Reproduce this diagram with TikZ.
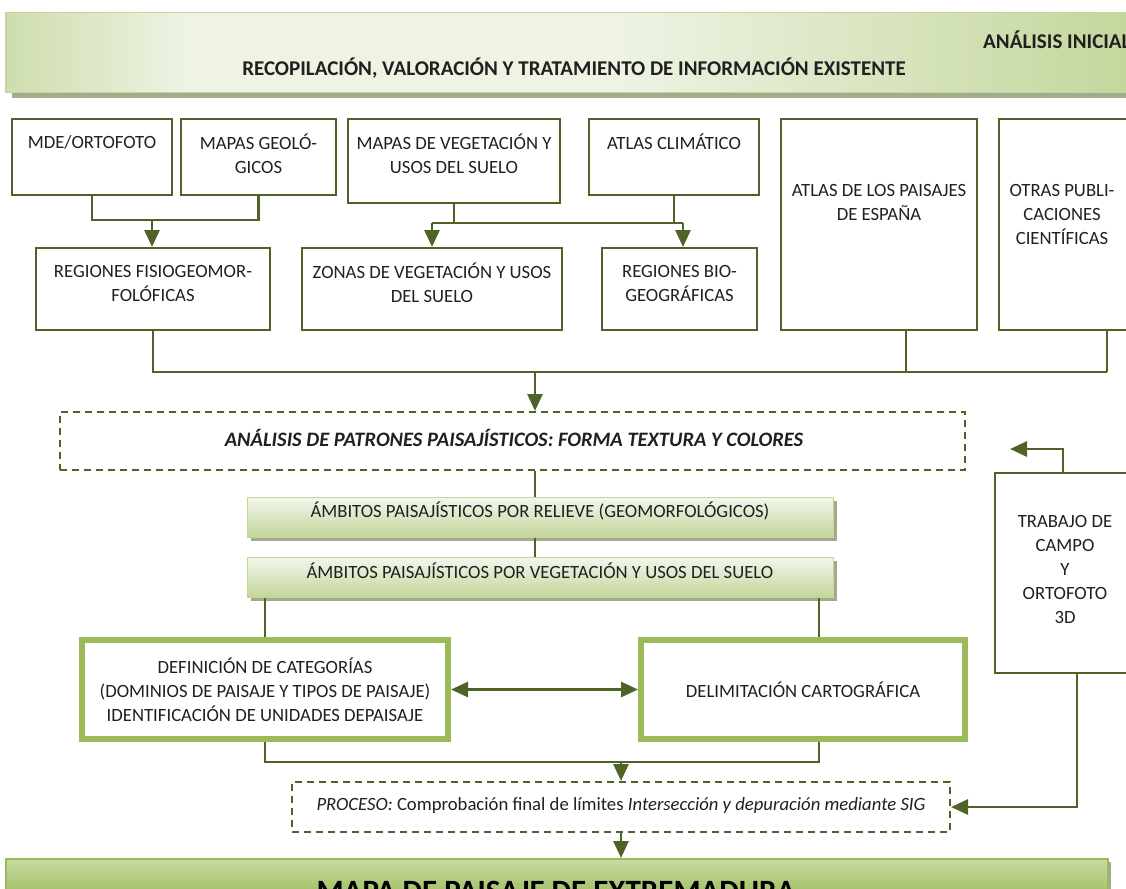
\documentclass[tikz,border=0pt]{standalone}
\usepackage{fontspec}
\setmainfont{Carlito}
\usetikzlibrary{arrows.meta}
\definecolor{olive}{HTML}{4F6228}
\definecolor{lgreen}{HTML}{9BBB59}
\definecolor{palegreen}{HTML}{EEF3E4}
\definecolor{midgreen}{HTML}{C3D69B}
\definecolor{shadowgray}{HTML}{A3AB8E}
\definecolor{txtc}{HTML}{202020}
\pgfdeclarehorizontalshading{bannershade}{100bp}{color(0bp)=(midgreen); color(25bp)=(midgreen!75!palegreen); color(33bp)=(palegreen); color(52bp)=(palegreen); color(75bp)=(midgreen); color(100bp)=(midgreen)}
\tikzset{
 obox/.style={draw=olive, line width=2pt, fill=white, inner sep=0pt},
 gbox/.style={draw=lgreen, line width=6pt, fill=white, inner sep=0pt},
 dbox/.style={draw=olive, line width=2pt, dash pattern=on 7pt off 5pt, fill=white, inner sep=0pt},
 bar/.style={draw=midgreen, line width=1pt, top color=palegreen!70!white, bottom color=midgreen, inner sep=0pt},
 txt/.style={align=center, inner sep=0pt, text=txtc, font=\fontsize{18.7}{24}\selectfont},
 conn/.style={draw=olive, line width=2.8pt},
 thin/.style={draw=olive, line width=2pt},
 arr/.style={conn, -{Triangle[width=15pt,length=17pt]}},
 darr/.style={conn, {Triangle[width=15pt,length=17pt]}-{Triangle[width=15pt,length=17pt]}},
}
\begin{document}
\begin{tikzpicture}[x=1pt,y=-1pt]
\useasboundingbox (0,0) rectangle (1126,888);
\begin{scope}
\clip (0,0) rectangle (1126,888);
% top banner
\fill[shadowgray] (12,18) rectangle (1140,98);
\node[draw=midgreen, line width=1.5pt, shading=bannershade, minimum width=1135pt, minimum height=80pt, inner sep=0pt, anchor=north west] (banner) at (5,12) {};
\node[font=\bfseries\fontsize{21}{24}\selectfont, anchor=west, inner sep=0pt, text=txtc] (ai) at (983,40) {ANÁLISIS INICIAL};
\node[font=\bfseries\fontsize{21}{24}\selectfont, inner sep=0pt, text=txtc] (rec) at (574,68) {RECOPILACIÓN, VALORACIÓN Y TRATAMIENTO DE INFORMACIÓN EXISTENTE};

% source boxes
\node[obox, minimum width=160pt, minimum height=76pt] (mde) at (92,157) {};
\node[txt] (mdeT) at (92,142) {MDE/ORTOFOTO};
\node[obox, minimum width=155pt, minimum height=76pt] (geol) at (258.5,157) {};
\node[txt] (geolT) at (258.5,154) {MAPAS GEOLÓ-\\GICOS};
\node[obox, minimum width=212pt, minimum height=84pt] (veg) at (454,161) {};
\node[txt] (vegT) at (454,154) {MAPAS DE VEGETACIÓN Y\\USOS DEL SUELO};
\node[obox, minimum width=170pt, minimum height=76pt] (clim) at (674,157) {};
\node[txt] (climT) at (674,142) {ATLAS CLIMÁTICO};
\node[obox, minimum width=196pt, minimum height=211pt] (atlas) at (879,224.5) {};
\node[txt] (atlasT) at (879,202) {ATLAS DE LOS PAISAJES\\DE ESPAÑA};
\node[obox, minimum width=140pt, minimum height=211pt] (otras) at (1069,224.5) {};
\node[txt] (otrasT) at (1062,214) {OTRAS PUBLI-\\CACIONES\\CIENTÍFICAS};

\node[obox, minimum width=234pt, minimum height=82pt] (fisio) at (153,289) {};
\node[txt] (fisioT) at (153,283) {REGIONES FISIOGEOMOR-\\FOLÓFICAS};
\node[obox, minimum width=260pt, minimum height=82pt] (zonas) at (432,289) {};
\node[txt] (zonasT) at (432,283) {ZONAS DE VEGETACIÓN Y USOS\\DEL SUELO};
\node[obox, minimum width=155pt, minimum height=82pt] (bio) at (679.5,289) {};
\node[txt] (bioT) at (679.5,283) {REGIONES BIO-\\GEOGRÁFICAS};

% connectors top
\coordinate (j1) at (152,220);
\draw[conn] (mde.south) |- (j1) -| (geol.south);
\draw[arr] (j1) -- (j1 |- fisio.north);
\coordinate (za) at (432,223);
\coordinate (ba) at (683,223);
\draw[conn] (veg.south) -- (veg.south |- za);
\draw[conn] (za) -- (ba);
\draw[conn] (clim.south) -- (clim.south |- ba);
\draw[arr] (za) -- (za |- zonas.north);
\draw[arr] (ba) -- (ba |- bio.north);

\coordinate (cc) at (535,372);
\coordinate (ca) at (906,372);
\coordinate (cr) at (1107,372);
\draw[conn] (fisio.south) |- (cr);
\draw[conn] (atlas.south -| ca) -- (ca);
\draw[conn] (otras.south -| cr) -- (cr);

% analysis dashed box
\node[dbox, minimum width=905pt, minimum height=58pt] (patr) at (512.5,441) {};
\node[font=\bfseries\itshape\fontsize{20.5}{24}\selectfont, inner sep=0pt, text=txtc] (patrT) at (514,438) {ANÁLISIS DE PATRONES PAISAJÍSTICOS: FORMA TEXTURA Y COLORES};
\draw[arr] (cc) -- (cc |- patr.north);

% bars
\fill[shadowgray] (251,501) rectangle (837,541);
\node[bar, minimum width=586pt, minimum height=40pt] (amb1) at (540,517) {};
\node[txt] (amb1T) at (540,511) {ÁMBITOS PAISAJÍSTICOS POR RELIEVE (GEOMORFOLÓGICOS)};
\fill[shadowgray] (251,561) rectangle (837,601);
\node[bar, minimum width=586pt, minimum height=40pt] (amb2) at (540,577) {};
\node[txt] (amb2T) at (540,571) {ÁMBITOS PAISAJÍSTICOS POR VEGETACIÓN Y USOS DEL SUELO};
\draw[thin] (patr.south -| cc) -- (cc |- amb1.north);
\draw[thin] (amb1.south -| cc) -- (cc |- amb2.north);

% green boxes
\node[gbox, minimum width=366pt, minimum height=99pt] (def) at (265,689.5) {};
\node[txt] (defT) at (265,690) {DEFINICIÓN DE CATEGORÍAS\\(DOMINIOS DE PAISAJE Y TIPOS DE PAISAJE)\\IDENTIFICACIÓN DE UNIDADES DEPAISAJE};
\node[gbox, minimum width=324pt, minimum height=99pt] (deli) at (803,689.5) {};
\node[txt] (deliT) at (803,690) {DELIMITACIÓN CARTOGRÁFICA};
\coordinate (dl) at (819,762);
\draw[thin] (def.north) -- (def.north |- amb2.south);
\draw[thin] (deli.north -| dl) -- (dl |- amb2.south);
\draw[darr] (def.east) -- (deli.west);

% process box
\coordinate (lc) at (621,762);
\draw[conn] (def.south) |- (dl) -- (dl |- deli.south);
\node[dbox, minimum width=658pt, minimum height=50pt] (proc) at (621,807) {};
\node[inner sep=0pt, text=txtc, font=\fontsize{18.7}{24}\selectfont] (procT) at (621,806) {\textit{PROCESO:} Comprobación final de límites \textit{Intersección y depuración mediante SIG}};
\draw[arr] (lc) -- (lc |- proc.north);

% trabajo de campo
\node[obox, minimum width=146pt, minimum height=200pt] (trab) at (1068,572.5) {};
\node[txt] (trabT) at (1065,569.5) {TRABAJO DE\\CAMPO\\Y\\ORTOFOTO\\3D};
\coordinate (tup) at (1063,449);
\coordinate (tupend) at (1010,449);
\draw[arr] (trab.north -| tup) -- (tup) -- (tupend);
\coordinate (tdn) at (1077,807);
\draw[arr] (trab.south -| tdn) -- (tdn) -- (tdn -| proc.east);

% bottom banner
\fill[shadowgray] (1104,862) rectangle (1111,900);
\node[draw=lgreen, line width=1.5pt, top color=midgreen!90!white, middle color=lgreen, bottom color=lgreen, minimum width=1102pt, minimum height=42pt, anchor=north west, inner sep=0pt] (mapa) at (5,858) {};
\node[font=\bfseries\fontsize{31}{36}\selectfont, anchor=north, inner sep=0pt, text=black] (mapaT) at (556,881) {MAPA DE PAISAJE DE EXTREMADURA};
\draw[arr] (proc.south) -- (proc.south |- mapa.north);
\end{scope}
\end{tikzpicture}
\end{document}
